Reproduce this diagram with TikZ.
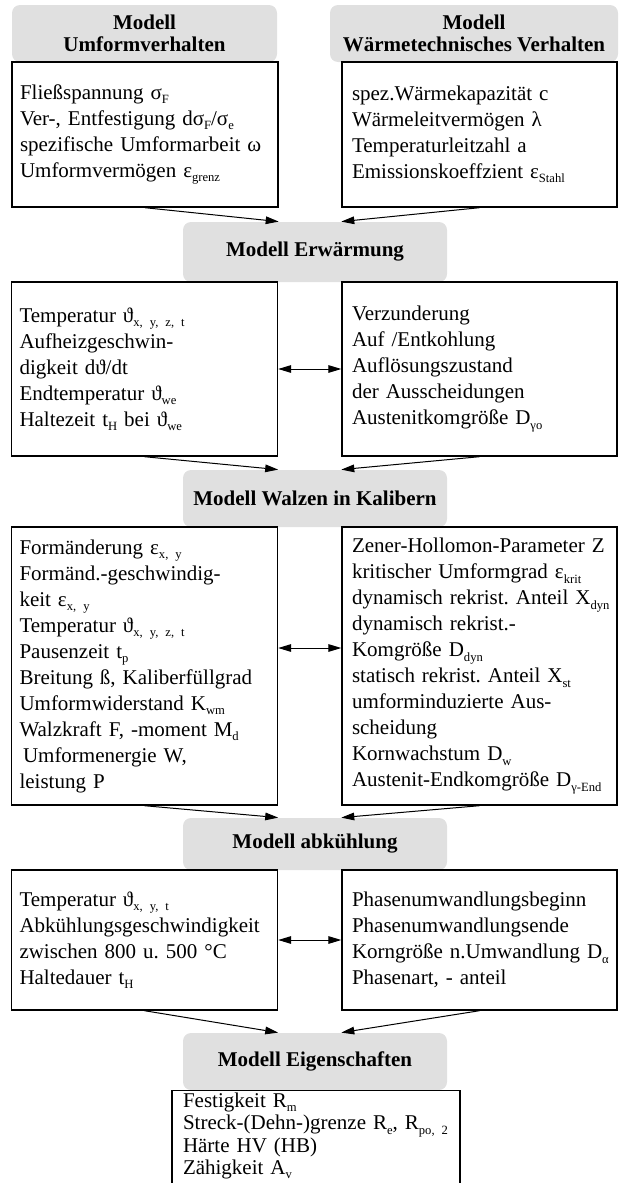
\documentclass[tikz,border=0pt]{standalone}
\usepackage{fontspec}
\setmainfont{Liberation Serif}
\usetikzlibrary{arrows.meta}
\definecolor{hdrgray}{HTML}{E0E0E0}
\tikzstyle{modell}=[fill=hdrgray,rounded corners=4pt,align=center,inner sep=0pt,minimum width=132pt,font=\bfseries\fontsize{10.5}{11}\selectfont]
\tikzstyle{werte}=[draw,line width=0.7pt,align=left,inner ysep=0pt,inner xsep=4pt,text width=125pt,font=\fontsize{10.5}{13}\selectfont]
\tikzstyle{pfeil}=[line width=0.5pt,-{Triangle[length=6.5pt,width=3.8pt]}]
\tikzstyle{wechsel}=[line width=0.5pt,{Triangle[length=6.5pt,width=3.8pt]}-{Triangle[length=6.5pt,width=3.8pt]}]
\newcommand{\ix}[1]{\raisebox{-0.45ex}{\fontsize{6.3}{7}\selectfont#1}}
\frenchspacing
\exhyphenpenalty=10000
\hyphenpenalty=10000

\begin{document}
\begin{tikzpicture}[x=0.5pt,y=-0.5pt]
    \useasboundingbox (0,0) rectangle (619,1183);
    % Modelle
    \node[modell,minimum width=132.5pt,minimum height=28.5pt] (hUmf) at (144.5,33.5) {Modell\\Umformverhalten};
    \node[modell,minimum width=144pt,minimum height=28.5pt] (hWaer) at (474,33.5) {Modell\\Wärmetechnisches Verhalten};
    \node[modell,minimum height=30pt] (hErw) at (315,252) {Modell Erwärmung};
    \node[modell,minimum height=28.5pt] (hWalz) at (315,498.5) {Modell Walzen in Kalibern};
    \node[modell,minimum height=26pt] (hAbk) at (315,844) {Modell abkühlung};
    \node[modell,minimum height=28.5pt] (hEig) at (315,1061.5) {Modell Eigenschaften};

    % Kenngroessen
    \node[werte,minimum height=72.5pt] (bUmf) at (145,134.5) {Fließspannung σ\ix{F}\\
        Ver-, Entfestigung dσ\ix{F}/σ\ix{e}\\
        spezifische~Umformarbeit~ω\\
        Umformvermögen ε\ix{grenz}};
    \node[werte,inner xsep=5pt,text width=127.5pt,minimum height=72.5pt] (bWaer) at (479.5,134.5) {spez.Wärmekapazität c\\
        Wärmeleitvermögen λ\\
        Temperaturleitzahl a\\
        Emissionskoeffzient ε\ix{Stahl}};
    \node[werte,minimum height=87pt] (bErwL) at (144.5,369) {Temperatur ϑ\ix{x, y, z, t}\\
        Aufheizgeschwin-\\
        digkeit dϑ/dt\\
        Endtemperatur ϑ\ix{we}\\
        Haltezeit t\ix{H} bei ϑ\ix{we}};
    \node[werte,inner xsep=5pt,text width=127.5pt,minimum height=87pt] (bErwR) at (479.5,369) {Verzunderung\\
        Auf /Entkohlung\\
        Auflösungszustand\\
        der Ausscheidungen\\
        Austenitkomgröße D\ix{γo}};
    \node[werte,minimum height=139pt] (bWalzL) at (144.5,666) {Formänderung ε\ix{x, y}\\
        Formänd.-geschwindig-\\
        keit ε\ix{x, y}\\
        Temperatur ϑ\ix{x, y, z, t}\\
        Pausenzeit t\ix{p}\\
        Breitung~ß,~Kaliberfüllgrad\\
        Umformwiderstand K\ix{wm}\\
        Walzkraft F, -moment M\ix{d}\\
        \,Umformenergie W,\\
        leistung P};
    \node[werte,inner xsep=5pt,text width=127.5pt,minimum height=139pt] (bWalzR) at (479.5,666) {Zener-Hollomon-Parameter~Z\\
        kritischer~Umformgrad~ε\ix{krit}\\
        dynamisch~rekrist.~Anteil~X\ix{dyn}\\
        dynamisch rekrist.-\\
        Komgröße D\ix{dyn}\\
        statisch rekrist. Anteil X\ix{st}\\
        umforminduzierte Aus-\\
        scheidung\\
        Kornwachstum D\ix{w}\\
        Austenit-Endkomgröße~D\ix{γ-End}};
    \node[werte,minimum height=70pt] (bAbkL) at (144.5,940) {Temperatur ϑ\ix{x, y, t}\\
        Abkühlungsgeschwindigkeit\\
        zwischen 800 u. 500 °C\\
        Haltedauer t\ix{H}};
    \node[werte,inner xsep=5pt,text width=127.5pt,minimum height=70pt] (bAbkR) at (479.5,940) {Phasenumwandlungsbeginn\\
        Phasenumwandlungsende\\
        Korngröße~n.Umwandlung~D\ix{α}\\
        Phasenart, - anteil};
    \node[werte,anchor=north,inner xsep=5.5pt,inner ysep=1pt,text width=133pt,text depth=46pt,font=\fontsize{10.5}{11.2}\selectfont] (bEig) at (316,1090) {Festigkeit R\ix{m}\\
        Streck-(Dehn-)grenze~R\ix{e},~R\ix{po, 2}\\
        Härte HV (HB)\\
        Zähigkeit A\ix{v}};

    % Verbindungen
    \foreach \from/\side/\to in {bUmf/south east/hErw,bWaer/south west/hErw,
        bErwL/south east/hWalz,bErwR/south west/hWalz,
        bWalzL/south east/hAbk,bWalzR/south west/hAbk,
        bAbkL/south east/hEig,bAbkR/south west/hEig}
    \draw[pfeil] (\from.south) -- (\from.\side |- \to.north);
    \draw[wechsel] (bErwL) -- (bErwR);
    \draw[wechsel] ([yshift=9pt]bWalzL.east) -- ([yshift=9pt]bWalzR.west);
    \draw[wechsel] (bAbkL) -- (bAbkR);
\end{tikzpicture}
\end{document}
